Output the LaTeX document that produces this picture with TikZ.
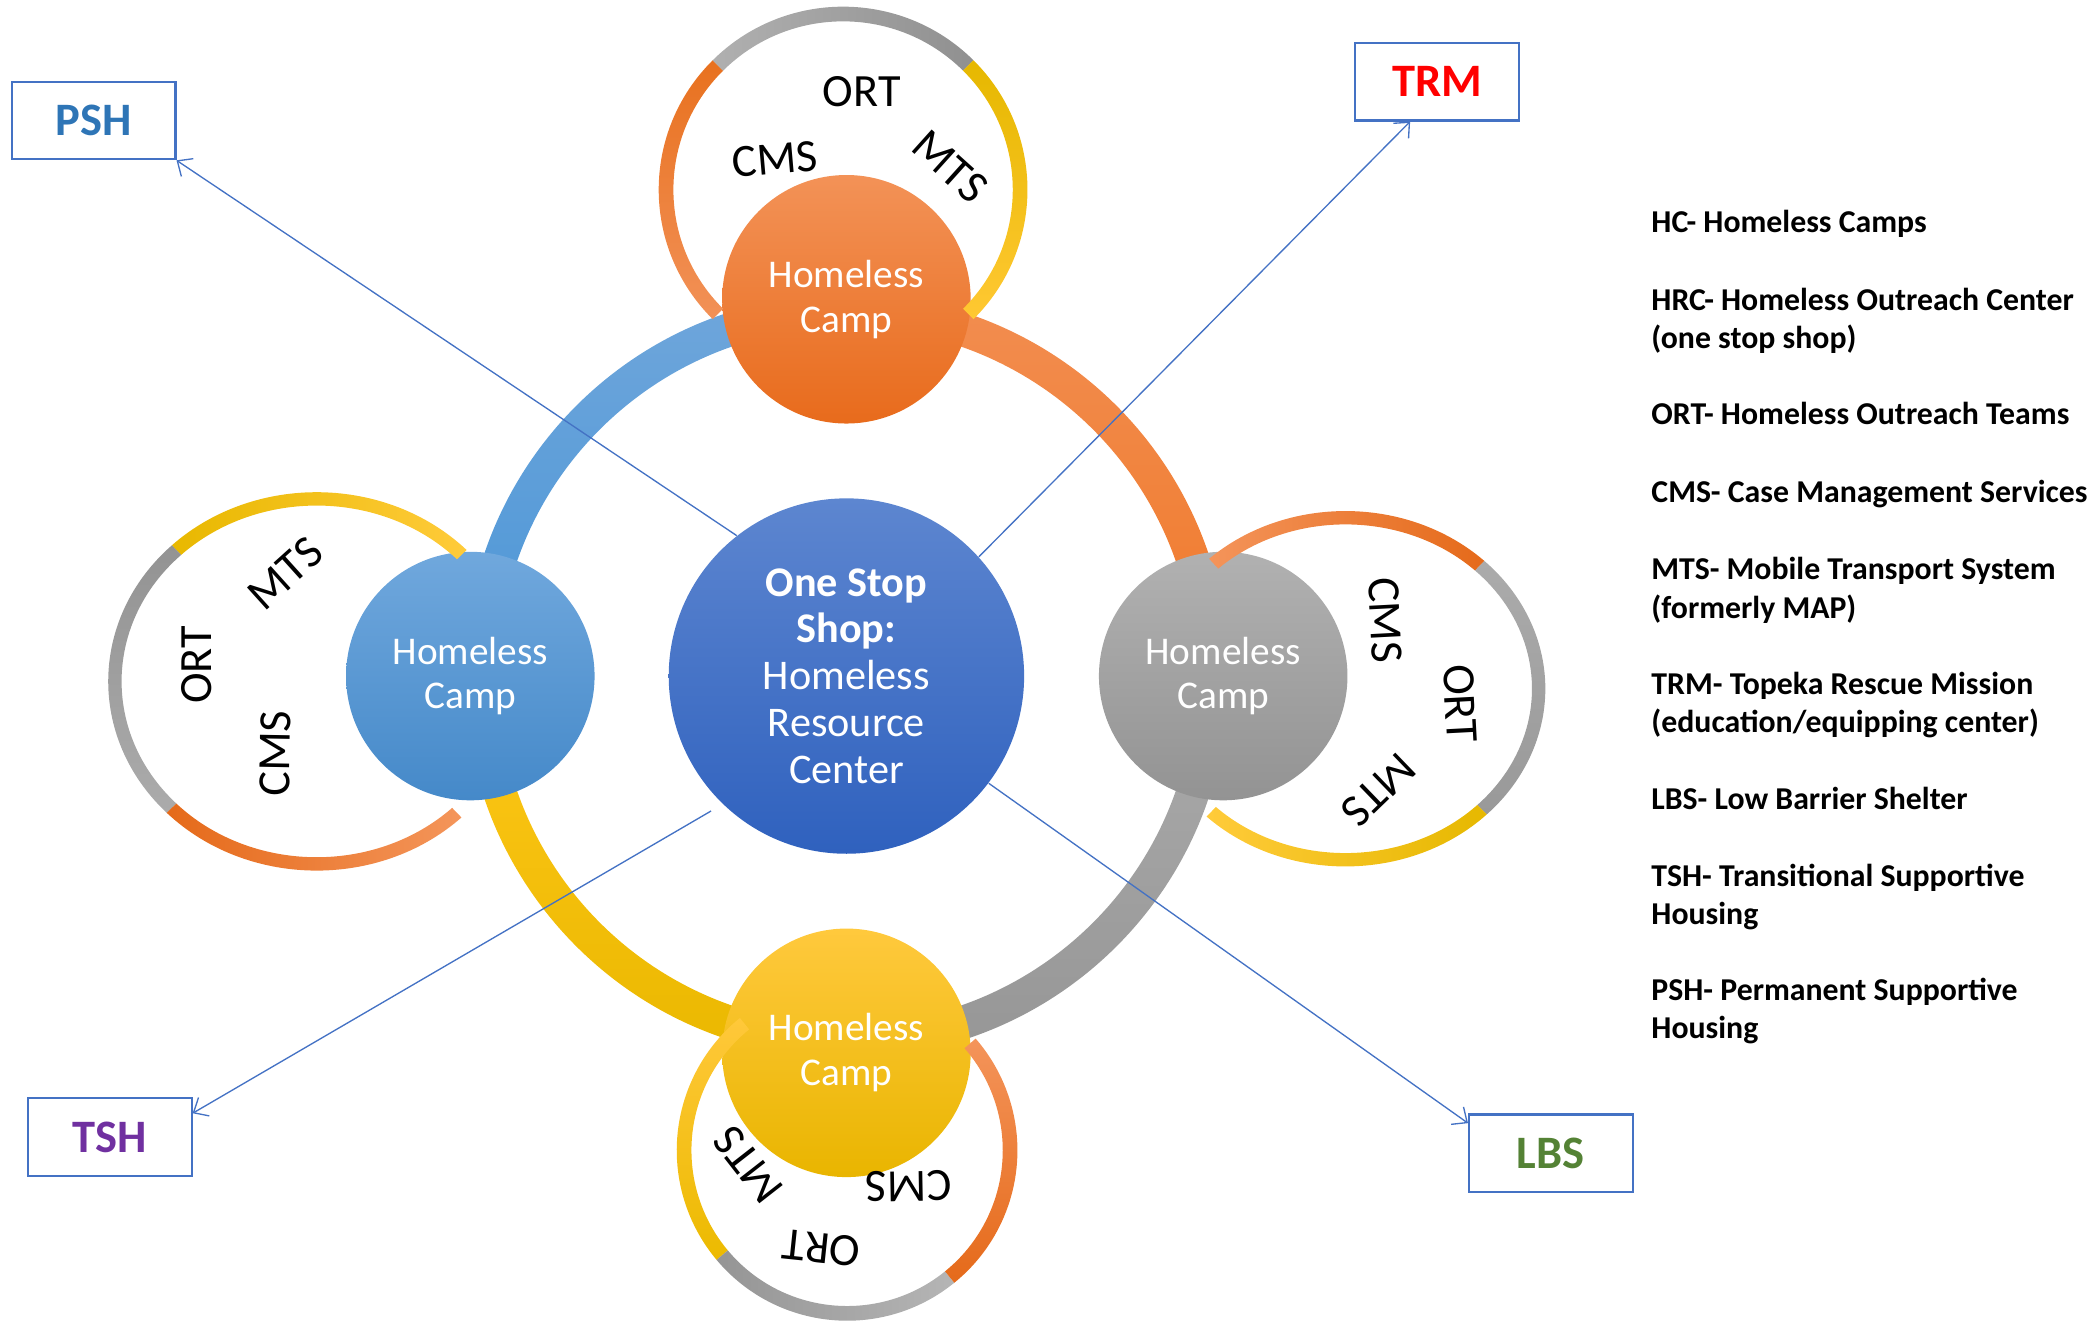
\documentclass[tikz,border=0pt]{standalone}
\usepackage{fontspec}
\setmainfont{Carlito}
\usetikzlibrary{calc,arrows.meta}
\definecolor{boxblue}{HTML}{4472C4}
\definecolor{pshc}{HTML}{2E75B6}
\definecolor{tshc}{HTML}{7030A0}
\definecolor{lbsc}{HTML}{548235}
\newcommand\ringseg[8]{%
 \pgfmathsetmacro\RSao{#3+#5}\pgfmathsetmacro\RSbo{#4+#5}%
 \pgfmathsetmacro\RSai{#3-#5}\pgfmathsetmacro\RSbi{#4-#5}%
 \shade[#8] ($(#1,#2)+({#6}:{\RSao} and {\RSbo})$) arc[start angle=#6,end angle=#7,x radius=\RSao,y radius=\RSbo] -- ($(#1,#2)+({#7}:{\RSai} and {\RSbi})$) arc[start angle=#7,end angle=#6,x radius=\RSai,y radius=\RSbi] -- cycle;}
\begin{document}
\begin{tikzpicture}[x=0.5pt,y=0.5pt,
  camp/.style={circle, minimum size=93pt, inner sep=0pt, text=white, align=center, font=\fontsize{14.7}{16.8}\selectfont},
  hubstyle/.style={circle, minimum size=133pt, inner sep=0pt, text=white, align=center, font=\fontsize{15.8}{17.5}\selectfont},
  rl/.style={inner sep=0pt, font=\fontsize{17.3}{20}\selectfont},
  lbox/.style={draw=boxblue, line width=0.8pt, minimum width=61.2pt, minimum height=29pt, inner sep=0pt, font=\fontsize{17.4}{20}\selectfont\bfseries},
  leg/.style={anchor=base west, inner sep=0pt, font=\fontsize{11.9}{14}\selectfont\bfseries},
  arr/.style={draw=boxblue, line width=0.5pt, -{Straight Barb[length=4.5pt,width=8pt]}}]
\useasboundingbox (0,0) rectangle (1568,989);
% big band
\ringseg{633.5}{483}{273.5}{273.5}{12.5}{90}{180}{top color={rgb,255:red,111;green,166;blue,219}, bottom color={rgb,255:red,75;green,150;blue,215}}
\ringseg{633.5}{483}{273.5}{273.5}{12.5}{0}{90}{top color={rgb,255:red,242;green,141;blue,80}, bottom color={rgb,255:red,240;green,122;blue,43}}
\ringseg{633.5}{483}{273.5}{273.5}{12.5}{270}{360}{top color={rgb,255:red,171;green,171;blue,171}, bottom color={rgb,255:red,150;green,150;blue,150}}
\ringseg{633.5}{483}{273.5}{273.5}{12.5}{180}{270}{top color={rgb,255:red,255;green,199;blue,25}, bottom color={rgb,255:red,234;green,184;blue,0}}
% camps
\node[camp, top color={rgb,255:red,243;green,146;blue,87}, bottom color={rgb,255:red,232;green,107;blue,28}] (ctop) at (633.5,765) {Homeless\\Camp};
\node[camp, top color={rgb,255:red,112;green,168;blue,221}, bottom color={rgb,255:red,69;green,137;blue,201}] (cleft) at (352,483) {Homeless\\Camp};
\node[camp, top color={rgb,255:red,177;green,177;blue,177}, bottom color={rgb,255:red,147;green,147;blue,147}] (cright) at (915.5,483) {Homeless\\Camp};
\node[camp, top color={rgb,255:red,255;green,201;blue,61}, bottom color={rgb,255:red,233;green,181;blue,0}] (cbot) at (633.5,201) {Homeless\\Camp};
% top ring
\ringseg{631}{847}{132.5}{131.5}{5.5}{135}{225}{top color={rgb,255:red,232;green,113;blue,31}, bottom color={rgb,255:red,242;green,145;blue,87}}
\ringseg{631}{847}{132.5}{131.5}{5.5}{45}{135}{left color={rgb,255:red,176;green,176;blue,176}, right color={rgb,255:red,144;green,144;blue,144}}
\ringseg{631}{847}{132.5}{131.5}{5.5}{-45}{45}{top color={rgb,255:red,230;green,184;blue,0}, bottom color={rgb,255:red,255;green,200;blue,50}}
% left ring
\ringseg{237}{479}{151}{136.6}{5}{44}{134}{left color={rgb,255:red,232;green,184;blue,0}, right color={rgb,255:red,255;green,203;blue,58}}
\ringseg{237}{479}{151}{136.6}{5}{134}{224}{top color={rgb,255:red,147;green,147;blue,147}, bottom color={rgb,255:red,171;green,171;blue,171}}
\ringseg{237}{479}{151}{136.6}{5}{224}{314}{left color={rgb,255:red,229;green,106;blue,26}, right color={rgb,255:red,244;green,149;blue,90}}
% right ring
\ringseg{1007}{473.5}{144.6}{128}{5}{46}{133}{left color={rgb,255:red,244;green,148;blue,90}, right color={rgb,255:red,229;green,106;blue,26}}
\ringseg{1007}{473.5}{144.6}{128}{5}{-45}{46}{top color={rgb,255:red,171;green,171;blue,171}, bottom color={rgb,255:red,153;green,153;blue,153}}
\ringseg{1007}{473.5}{144.6}{128}{5}{226}{315}{left color={rgb,255:red,255;green,203;blue,58}, right color={rgb,255:red,230;green,184;blue,0}}
% bottom ring
\ringseg{634}{128}{122}{122}{5.5}{129}{220}{top color={rgb,255:red,255;green,200;blue,58}, bottom color={rgb,255:red,236;green,186;blue,0}}
\ringseg{634}{128}{122}{122}{5.5}{220}{309}{left color={rgb,255:red,149;green,149;blue,149}, right color={rgb,255:red,181;green,181;blue,181}}
\ringseg{634}{128}{122}{122}{5.5}{309}{401}{top color={rgb,255:red,244;green,148;blue,90}, bottom color={rgb,255:red,229;green,106;blue,26}}
% ring labels
\node[rl] (t1) at (645,920.4) {ORT};
\node[rl, rotate=5] (t2) at (580,869.7) {CMS};
\node[rl, rotate=-42] (t3) at (711,864.2) {MTS};
\node[rl, rotate=42] (l1) at (213.3,559.9) {MTS};
\node[rl, rotate=90] (l2) at (147.2,491.2) {ORT};
\node[rl, rotate=89] (l3) at (205.8,425.1) {CMS};
\node[rl, rotate=-87] (r1) at (1036.7,524.9) {CMS};
\node[rl, rotate=-87] (r2) at (1092.8,462.6) {ORT};
\node[rl, rotate=224] (r3) at (1031.7,397.7) {MTS};
\node[rl, rotate=128] (b1) at (560,117) {MTS};
\node[rl, rotate=181] (b2) at (680,101) {CMS};
\node[rl, rotate=174] (b3) at (615,54.7) {ORT};
% hub
\node[hubstyle, top color={rgb,255:red,93;green,134;blue,208}, bottom color={rgb,255:red,47;green,97;blue,190}] (hub) at (633.5,483) {\textbf{One Stop}\\\textbf{Shop:}\\Homeless\\Resource\\Center};
% boxes
\node[lbox, text=pshc] (psh) at (70.1,898.8) {PSH};
\node[lbox, text=red] (trm) at (1075.5,927.8) {TRM};
\node[lbox, text=tshc] (tsh) at (82.2,138) {TSH};
\node[lbox, text=lbsc] (lbs) at (1160.7,125.8) {LBS};
% arrows
\draw[arr] (hub.128) -- (psh.south east);
\draw[arr] (hub.42) -- (trm.236);
\draw[arr, shorten <=5pt] (hub.226) -- (tsh.16);
\draw[arr] (hub.323) -- (lbs.160);
% legend
\node[leg] (g1) at (1235.6,814.6) {HC- Homeless Camps};
\node[leg] (g2) at (1235.6,756.8) {HRC- Homeless Outreach Center};
\node[leg] (g2b) at (1235.6,728.4) {(one stop shop)};
\node[leg] (g3) at (1235.6,671) {ORT- Homeless Outreach Teams};
\node[leg] (g4) at (1235.6,613.1) {CMS- Case Management Services};
\node[leg] (g5) at (1235.6,555.6) {MTS- Mobile Transport System};
\node[leg] (g5b) at (1235.6,526.2) {(formerly MAP)};
\node[leg] (g6) at (1235.6,469.4) {TRM- Topeka Rescue Mission};
\node[leg] (g6b) at (1235.6,441) {(education/equipping center)};
\node[leg] (g7) at (1235.6,383.4) {LBS- Low Barrier Shelter};
\node[leg] (g8) at (1235.6,325.4) {TSH- Transitional Supportive};
\node[leg] (g8b) at (1235.6,297.4) {Housing};
\node[leg] (g9) at (1235.6,239.8) {PSH- Permanent Supportive};
\node[leg] (g9b) at (1235.6,212) {Housing};
\end{tikzpicture}
\end{document}
